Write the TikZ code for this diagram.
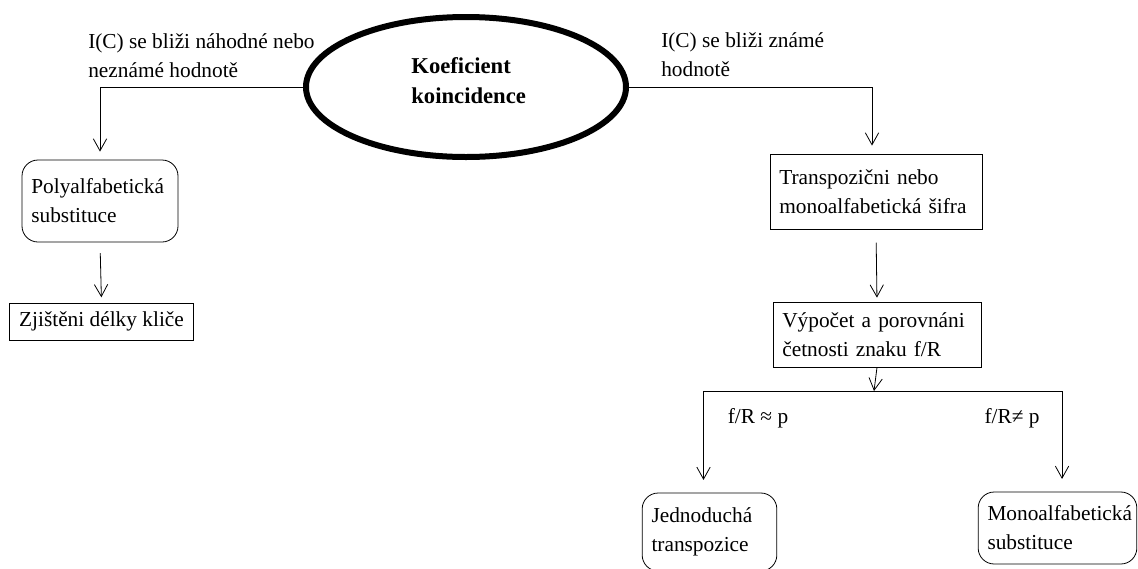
\documentclass[tikz,border=0pt]{standalone}
\usepackage{fontspec}
\setmainfont{Liberation Serif}
\usetikzlibrary{arrows.meta,shapes.geometric}

\begin{document}
\begin{tikzpicture}[x=0.75pt, y=-0.75pt,
    >={Straight Barb[length=9pt,width=10pt]},
    every node/.style={font=\fontsize{16}{21.75}\selectfont},
    box/.style={draw, line width=0.6pt, inner xsep=7pt, inner ysep=0pt, align=left},
    roundbox/.style={box, rounded corners=12pt},
    conn/.style={->, line width=0.6pt}]

    % Page
    \path[fill=white, use as bounding box] (0,0) rectangle (1138,568);
    \clip (0,0) rectangle (1138,568);

    % Centre
    \node[ellipse, draw, line width=4.5pt, minimum width=240pt, minimum height=105pt,
          inner sep=0pt,
          label={[align=left, yshift=5pt, xshift=2pt, font=\fontsize{17}{22.5}\selectfont\bfseries]center:Koeficient\\koincidence}]
          (coef) at (466,87) {};

    % Branch labels
    \node[anchor=west, align=left, inner sep=0pt] (lefttxt) at (88,56)
          {I(C) se bliži náhodné nebo\\neznámé hodnotě};
    \node[anchor=west, align=left, inner sep=0pt] (righttxt) at (661,55)
          {I(C) se bliži známé\\hodnotě};

    % Left side
    \node[roundbox, text width=103pt, minimum height=61.5pt] (poly) at (100,201)
          {Polyalfabetická\\substituce};
    \node[box, align=center, minimum width=137.25pt, minimum height=27.75pt] (key) at (101.5,321.5)
          {Zjištěni délky kliče};

    % Right side
    \node[box, text width=145pt, minimum height=56.25pt] (trans) at (876,191.5)
          {Transpozični nebo\\monoalfabetická šifra};
    \node[box, text width=142pt, minimum height=48.75pt] (calc) at (877,334.5)
          {Výpočet a porovnáni\\četnosti znaku f/R};
    \node[roundbox, text width=87pt, minimum height=58.5pt] (simple) at (709.5,532)
          {Jednoduchá\\transpozice};
    \node[roundbox, text width=105pt, minimum height=54pt] (mono) at (1057.5,528)
          {Monoalfabetická\\substituce};

    % Conditions
    \node (approx) at (758,418) {f/R ≈ p};
    \node (noteq) at (1012,418) {f/R≠ p};

    % Arrows
    \draw[conn, shorten >=6pt] (coef.west) -| (poly.north);
    \draw[conn, shorten <=8pt, shorten >=4pt] (poly.south) -- (key.north);
    \draw[conn, shorten >=6pt] (coef.east) -| ([xshift=-3pt]trans.north);
    \draw[conn, shorten <=10pt, shorten >=3pt] (trans.south) -- (calc.north);

    \coordinate (split) at (874,391);
    \draw[conn] (calc.south) -- (split);
    \draw[conn, shorten >=9.5pt] (split) -| ([xshift=-4.5pt]simple.north);
    \draw[conn, shorten >=9.5pt] (split) -| ([xshift=3.4pt]mono.north);
\end{tikzpicture}
\end{document}
